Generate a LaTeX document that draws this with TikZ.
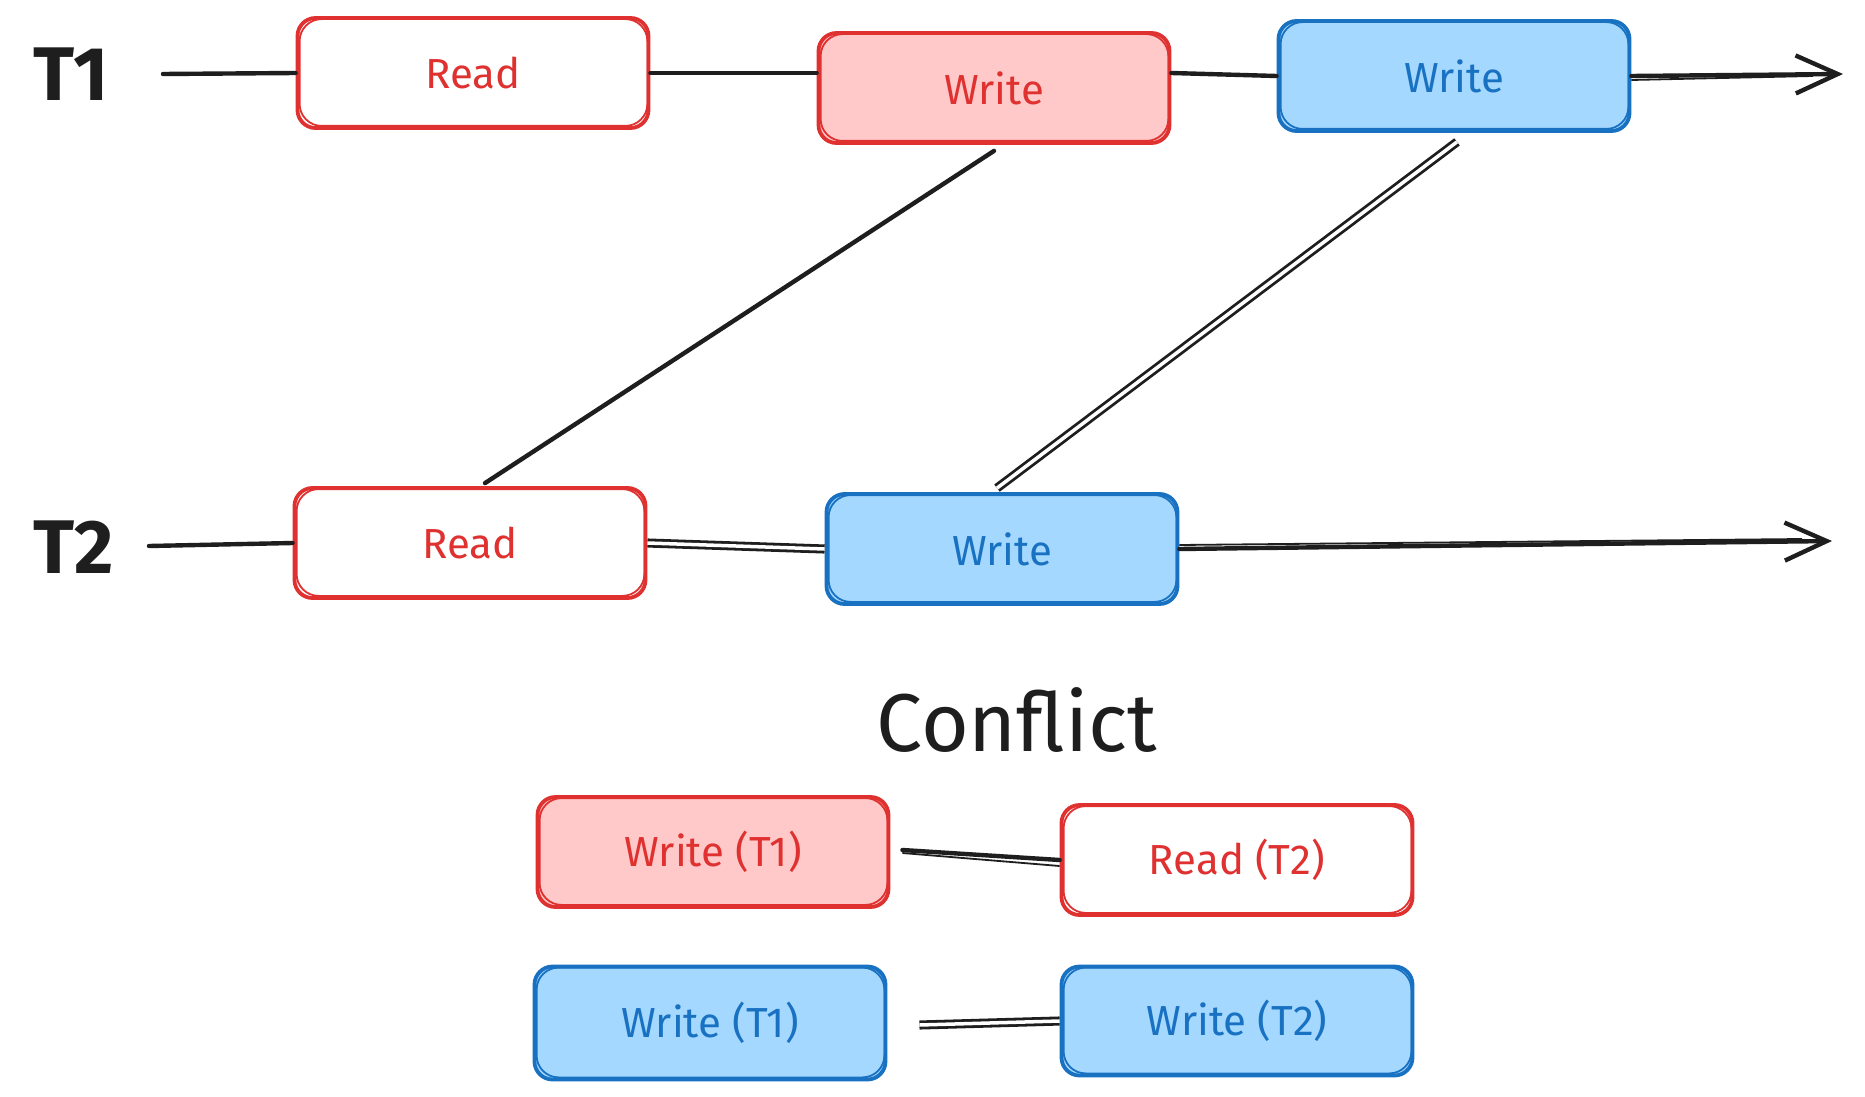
\documentclass[tikz,border=0pt]{standalone}
\usepackage{fontspec}
\setmainfont{Fira Sans}
\usetikzlibrary{arrows.meta}
\definecolor{redline}{HTML}{E03131}
\definecolor{redfill}{HTML}{FFC9C9}
\definecolor{blueline}{HTML}{1971C2}
\definecolor{bluefill}{HTML}{A5D8FF}
\definecolor{ink}{HTML}{1E1E1E}

\tikzset{
  op/.style={minimum width=351pt, minimum height=110pt, rounded corners=18pt,
    line width=3.8pt, font=\fontsize{42}{48}\selectfont, inner sep=0pt},
  rdop/.style={op, draw=redline, fill=white, text=redline},
  wrop/.style={op, draw=redline, fill=redfill, text=redline},
  wbop/.style={op, draw=blueline, fill=bluefill, text=blueline},
  wire/.style={draw=ink, line width=4.4pt, line cap=round},
  twin/.style={draw=ink, line width=2.8pt, double=white, double distance=3.5pt},
  roughedge/.style={line width=1.8pt, rounded corners=22pt},
  tlabel/.style={text=ink, font=\fontsize{76}{80}\selectfont\bfseries},
  tip/.style={-{Straight Barb[length=42pt,width=38pt,line width=4.4pt]}}
}
% second, slightly offset stroke for a hand-drawn box outline
\newcommand\sketchbox[2]{%
  \draw[#2, roughedge] ([shift={(4pt,-3pt)}]#1.north west) rectangle ([shift={(-3pt,4pt)}]#1.south east);}

\begin{document}
\begin{tikzpicture}[x=1pt,y=-1pt]
\useasboundingbox[fill=white] (0,0) rectangle (1865,1097);

% transaction labels
\node[tlabel] (t1) at (71,74) {T1};
\node[tlabel] (t2) at (74,547) {T2};

% line ends
\coordinate (s1) at (163,74);
\coordinate (e1) at (1843,74);
\coordinate (s2) at (149,546);
\coordinate (e2) at (1832,541);

% operations on the timelines
\node[rdop] (r1) at (473,73) {Read};
\node[wrop] (w1) at (994,88) {Write};
\node[wbop] (w1b) at (1454,76) {Write};
\node[rdop] (r2) at (470,543) {Read};
\node[wbop] (w2) at (1002,549) {Write};
\sketchbox{r1}{redline}
\sketchbox{w1}{redline}
\sketchbox{w1b}{blueline}
\sketchbox{r2}{redline}
\sketchbox{w2}{blueline}

% T1 timeline
\draw[wire] (s1) -- (r1.west);
\draw[wire] (r1.east) -- (r1.east -| w1.west);
\draw[wire] (w1.east |- r1.east) -- (w1b.west);
\draw[wire, tip] (w1b.east) -- (e1);
\draw[ink, line width=1.8pt] ([yshift=-4pt]w1b.east) -- ([xshift=-30pt,yshift=-2pt]e1);

% T2 timeline
\draw[wire] (s2) -- (r2.west);
\draw[twin] (r2.east) -- (w2.west);
\draw[wire, tip] (w2.east) -- (e2);
\draw[ink, line width=1.8pt] ([yshift=4pt]w2.east) -- ([xshift=-30pt,yshift=2pt]e2);

% dependencies between the transactions
\draw[wire] ([yshift=-6pt]w1.south) -- ([xshift=15pt,yshift=3pt]r2.north);
\draw[twin] ([yshift=-9pt,xshift=3pt]w1b.south) -- ([xshift=-5pt,yshift=4pt]w2.north);

% conflict pairs
\node[font=\fontsize{82}{90}\selectfont, text=ink] (conf) at (1017,720) {Conflict};
\node[wrop] (c1) at (713,852) {Write (T1)};
\node[rdop] (c2) at (1237,860) {Read (T2)};
\node[wbop, minimum height=113pt] (c3) at (710,1023) {Write (T1)};
\node[wbop, minimum height=109pt] (c4) at (1237,1021) {Write (T2)};
\sketchbox{c1}{redline}
\sketchbox{c2}{redline}
\sketchbox{c3}{blueline}
\sketchbox{c4}{blueline}

\draw[wire] ([xshift=12pt,yshift=2pt]c1.east) -- (c2.west);
\draw[ink, line width=1.8pt] ([xshift=12pt,yshift=-1pt]c1.east) -- ([yshift=-6pt]c2.west);
\draw[twin] ([xshift=32pt,yshift=-2pt]c3.east) -- (c4.west);
\end{tikzpicture}
\end{document}
